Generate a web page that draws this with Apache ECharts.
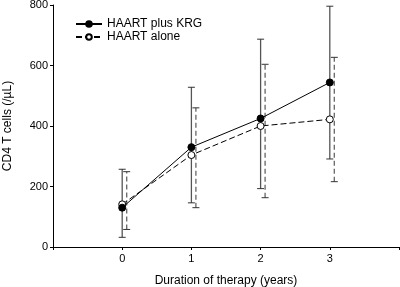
<!DOCTYPE html>
<html>
<head>
<meta charset="utf-8">
<script src="https://cdn.jsdelivr.net/npm/echarts@6/dist/echarts.min.js"></script>
<style>
html,body{margin:0;padding:0;background:#fff;}
#chart{width:400px;height:287px;}
</style>
</head>
<body>
<div id="chart"></div>
<script>
// 数据
var years = [0, 1, 2, 3];
var krgMean = [130, 330, 425, 544];
var krgLow = [32, 146, 193, 291];
var krgHigh = [257, 528, 687, 796];
var aloneMean = [141, 304, 400, 422];
var aloneLow = [58, 130, 163, 216];
var aloneHigh = [249, 460, 604, 627];
var yTicks = [0, 200, 400, 600, 800];

var shift = 0.065; // 虚线误差棒右移一点

function pairs(xs, ys, dx) {
	return xs.map(function (x, i) { return [x + dx, ys[i]]; });
}
function bars(xs, lo, hi, dx) {
	return xs.map(function (x, i) { return [x + dx, lo[i], hi[i]]; });
}

function errorBar(dashed) {
	return function (params, api) {
		var x = api.value(0);
		var p1 = api.coord([x, api.value(1)]);
		var p2 = api.coord([x, api.value(2)]);
		var cap = 3.5;
		var style = {
			stroke: dashed ? '#666' : '#555',
			lineWidth: 1.3,
			lineDash: dashed ? [5, 3] : null
		};
		return {
			type: 'group',
			children: [
				{ type: 'line', shape: { x1: p1[0], y1: p1[1], x2: p2[0], y2: p2[1] }, style: style },
				{ type: 'line', shape: { x1: p1[0] - cap, y1: p1[1], x2: p1[0] + cap, y2: p1[1] }, style: { stroke: '#333', lineWidth: 1 } },
				{ type: 'line', shape: { x1: p2[0] - cap, y1: p2[1], x2: p2[0] + cap, y2: p2[1] }, style: { stroke: '#333', lineWidth: 1 } }
			]
		};
	};
}

var myChart = echarts.init(document.getElementById('chart'));
var font = 'Liberation Sans, Arial, sans-serif';

var option = {
	animation: false,
	backgroundColor: '#fff',
	grid: { left: 53, right: 1, top: 5, bottom: 40, containLabel: false, outerBoundsMode: 'none' },
	legend: {
		orient: 'vertical',
		left: 70,
		top: 13,
		itemWidth: 26,
		itemHeight: 7,
		itemGap: 1,
		textStyle: { color: '#000', fontFamily: font, fontSize: 12 },
		data: ['HAART plus KRG', 'HAART alone']
	},
	xAxis: {
		type: 'value',
		min: -1,
		max: 4,
		interval: 1,
		name: 'Duration of therapy (years)',
		nameLocation: 'middle',
		nameGap: 28,
		nameTextStyle: { color: '#000', fontFamily: font, fontSize: 12 },
		axisLine: { show: true, onZero: false, lineStyle: { color: '#000', width: 1 } },
		axisTick: { show: true, length: 3, lineStyle: { color: '#000' } },
		axisLabel: {
			color: '#000', fontFamily: font, fontSize: 11, margin: 6,
			formatter: function (v) { return years.indexOf(v) >= 0 ? String(v) : ''; }
		},
		splitLine: { show: false }
	},
	yAxis: {
		type: 'value',
		min: yTicks[0],
		max: yTicks[yTicks.length - 1],
		interval: 200,
		name: 'CD4 T cells (/µL)',
		nameLocation: 'middle',
		nameGap: 39,
		nameTextStyle: { color: '#000', fontFamily: font, fontSize: 12 },
		axisLine: { show: true, onZero: false, lineStyle: { color: '#000', width: 1 } },
		axisTick: { show: true, length: 3, lineStyle: { color: '#000' } },
		axisLabel: { color: '#000', fontFamily: font, fontSize: 11, margin: 5 },
		splitLine: { show: false }
	},
	series: [
		{
			name: 'krgErr',
			type: 'custom',
			renderItem: errorBar(false),
			data: bars(years, krgLow, krgHigh, 0),
			z: 1
		},
		{
			name: 'aloneErr',
			type: 'custom',
			renderItem: errorBar(true),
			data: bars(years, aloneLow, aloneHigh, shift),
			z: 1
		},
		{
			name: 'HAART alone',
			type: 'line',
			data: pairs(years, aloneMean, 0),
			symbol: 'circle',
			symbolSize: 7,
			lineStyle: { color: '#000', width: 1, type: [6, 3] },
			itemStyle: { color: '#fff', borderColor: '#000', borderWidth: 1 },
			z: 3
		},
		{
			name: 'HAART plus KRG',
			type: 'line',
			data: pairs(years, krgMean, 0),
			symbol: 'circle',
			symbolSize: 7,
			lineStyle: { color: '#000', width: 1 },
			itemStyle: { color: '#000', borderColor: '#000', borderWidth: 1 },
			z: 4
		}
	]
};
myChart.setOption(option);
</script>
</body>
</html>
